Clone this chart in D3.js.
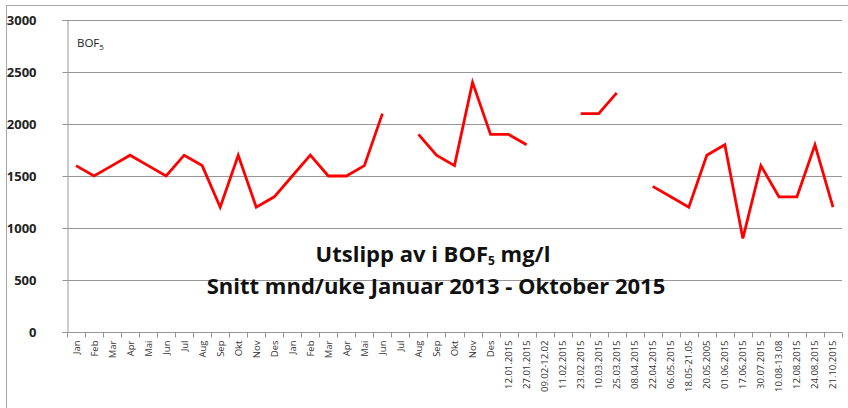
<!DOCTYPE html>
<html>
<head>
<meta charset="utf-8">
<script src="https://cdn.jsdelivr.net/npm/d3@7"></script>
<style>
  body { margin: 0; background: #fff; }
  svg { display: block; }
</style>
</head>
<body>
<svg id="chart" width="848" height="408"></svg>
<script>
// categories (month names 2013 + 2014, then sample dates 2015)
let categories = [
    "Jan", "Feb", "Mar", "Apr", "Mai", "Jun", "Jul", "Aug", "Sep", "Okt", "Nov", "Des",
    "Jan", "Feb", "Mar", "Apr", "Mai", "Jun", "Jul", "Aug", "Sep", "Okt", "Nov", "Des",
    "12.01.2015", "27.01.2015", "09.02-12.02", "11.02.2015", "23.02.2015", "10.03.2015",
    "25.03.2015", "08.04.2015", "22.04.2015", "06.05.2015", "18.05-21.05", "20.05.2005",
    "01.06.2015", "17.06.2015", "30.07.2015", "10.08-13.08", "12.08.2015", "24.08.2015",
    "21.10.2015"
];
// BOF5 values, null = no measurement
let values = [
    1600, 1500, 1600, 1700, 1600, 1500, 1700, 1600, 1200, 1700, 1200, 1300,
    1500, 1700, 1500, 1500, 1600, 2100, null, 1900, 1700, 1600, 2400, 1900,
    1900, 1800, null, null, 2100, 2100,
    2300, null, 1400, 1300, 1200, 1700,
    1800, 900, 1600, 1300, 1300, 1800,
    1200
];
let yTicks = [0, 500, 1000, 1500, 2000, 2500, 3000];

let svg = d3.select("#chart");
let font = "'Open Sans', 'Noto Sans', sans-serif";

// frame
svg.append("rect")
    .attr("x", 6.5).attr("y", 5.5)
    .attr("width", 848).attr("height", 410)
    .attr("fill", "none").attr("stroke", "#a6a6a6");

let margin = { top: 20, left: 67, right: 6, bottom: 76 };
let plotWidth = 848 - margin.left - margin.right;
let plotHeight = 408 - margin.top - margin.bottom;

let x = d3.scaleBand().domain(d3.range(categories.length)).range([0, plotWidth]);
let y = d3.scaleLinear().domain([0, 3000]).range([plotHeight, 0]);

let plot = svg.append("g").attr("transform", "translate(" + margin.left + "," + margin.top + ")");

// gridlines
plot.append("g").selectAll("line")
    .data(yTicks.filter(d => d > 0))
    .enter().append("line")
    .attr("x1", 0).attr("x2", plotWidth)
    .attr("y1", d => Math.round(y(d)) + 0.5).attr("y2", d => Math.round(y(d)) + 0.5)
    .attr("stroke", "#969696");

// y axis
let yGroup = plot.append("g").attr("transform", "translate(0.5,0)")
    .call(d3.axisLeft(y).tickValues(yTicks).tickFormat(d3.format("d")).tickSize(5).tickPadding(26));
yGroup.selectAll("line").attr("stroke", "#969696");
yGroup.select(".domain").attr("stroke", "#969696");
yGroup.selectAll("text")
    .style("font-family", font).style("font-size", "13px")
    .style("font-weight", "bold").attr("fill", "#222");

// x axis (ticks between categories)
let xGroup = plot.append("g").attr("transform", "translate(0," + (plotHeight + 0.5) + ")");
xGroup.append("line").attr("x1", 0).attr("x2", plotWidth).attr("stroke", "#969696");
xGroup.selectAll("line.tick")
    .data(d3.range(categories.length + 1))
    .enter().append("line")
    .attr("class", "tick")
    .attr("x1", i => Math.round(i * x.step()) + 0.5).attr("x2", i => Math.round(i * x.step()) + 0.5)
    .attr("y1", 0).attr("y2", 5)
    .attr("stroke", "#969696");
xGroup.selectAll("text")
    .data(categories)
    .enter().append("text")
    .text(d => d)
    .attr("transform", (d, i) => "translate(" + (x(i) + x.bandwidth() / 2 + 3.5) + ",8) rotate(-90)")
    .attr("text-anchor", "end")
    .style("font-family", font).style("font-size", "9.5px")
    .attr("fill", "#333");

// line
let line = d3.line()
    .defined(d => d != null)
    .x((d, i) => x(i) + x.bandwidth() / 2)
    .y(d => y(d));
plot.append("path")
    .datum(values)
    .attr("d", line)
    .attr("fill", "none")
    .attr("stroke", "#ff0000")
    .attr("stroke-width", 2.8)
    .attr("stroke-linejoin", "miter");

// series label
let lab = svg.append("text")
    .attr("x", 77).attr("y", 47)
    .style("font-family", font).style("font-size", "11.5px").attr("fill", "#222");
lab.append("tspan").text("BOF");
lab.append("tspan").text("5").attr("dy", 3).style("font-size", "8px");

// title
let t1 = svg.append("text")
    .attr("x", 433).attr("y", 262).attr("text-anchor", "middle")
    .style("font-family", font).style("font-size", "22px").style("font-weight", "bold").attr("fill", "#111");
t1.append("tspan").text("Utslipp av i BOF");
t1.append("tspan").text("5").attr("dy", 2.5).style("font-size", "12px");
t1.append("tspan").text(" mg/l").attr("dy", -2.5);

svg.append("text")
    .attr("x", 436).attr("y", 294).attr("text-anchor", "middle")
    .style("font-family", font).style("font-size", "22px").style("font-weight", "bold").attr("fill", "#111")
    .text("Snitt mnd/uke Januar 2013 - Oktober 2015");
</script>
</body>
</html>
